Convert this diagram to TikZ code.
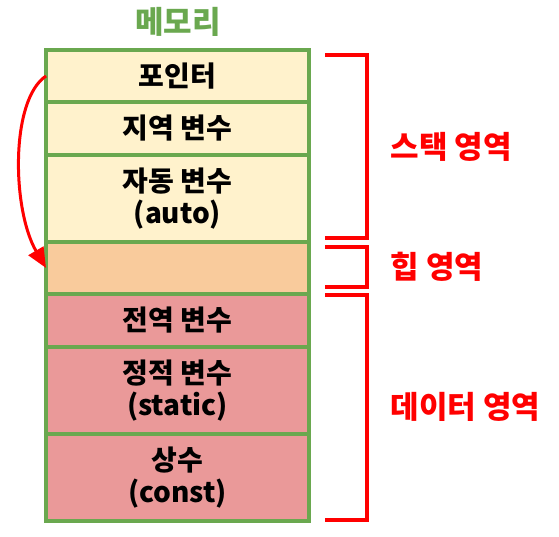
\documentclass[tikz,border=0pt]{standalone}
\usepackage{fontspec}
\setmainfont{Noto Sans CJK KR}
\usetikzlibrary{arrows.meta, positioning}
\definecolor{memgreen}{HTML}{6AA84F}
\definecolor{stackfill}{HTML}{FFF2CC}
\definecolor{heapfill}{HTML}{F9CB9C}
\definecolor{datafill}{HTML}{EA9999}
\tikzstyle{every picture} = [x=1pt, y=-1pt]
\tikzstyle{cell} = [rectangle, draw=memgreen, line width=3.5pt, outer sep=0pt, minimum width=263pt, align=center, font=\bfseries\fontsize{28}{32}\selectfont]
\tikzstyle{area} = [anchor=west, text=red, font=\bfseries\fontsize{31}{34}\selectfont]
\tikzstyle{brace} = [red, line width=3.5pt, line join=miter]

\begin{document}
\begin{tikzpicture}
			\useasboundingbox (0,0) rectangle (559,537);
			\node (ptr) [cell, fill=stackfill, minimum height=52pt, anchor=north west] at (46,50) {포인터};
			\node (local) [cell, fill=stackfill, minimum height=53pt, below=0pt of ptr] {지역 변수};
			\node (auto) [cell, fill=stackfill, minimum height=87pt, below=0pt of local] {자동 변수\\(auto)};
			\node (heap) [cell, fill=heapfill, minimum height=52pt, below=0pt of auto] {};
			\node (global) [cell, fill=datafill, minimum height=53pt, below=0pt of heap] {전역 변수};
			\node (static) [cell, fill=datafill, minimum height=87pt, below=0pt of global] {정적 변수\\(static)};
			\node (const) [cell, fill=datafill, minimum height=87pt, below=0pt of static] {상수\\(const)};
			\node (title) [text=memgreen, font=\bfseries\fontsize{31}{34}\selectfont] at (178,22) {메모리};
			% brackets
			\draw[brace] (325,55) -- (367,55) -- (367,238) -- (325,238);
			\draw[brace] (325,247) -- (367,247) -- (367,287) -- (325,287);
			\draw[brace] (325,295) -- (367,295) -- (367,520) -- (325,520);
			\node (stack label) [area] at (387,147) {스택 영역};
			\node (heap label) [area] at (387,267) {힙 영역};
			\node (data label) [area] at (387,407) {데이터 영역};
			\draw[red, line width=3pt, -{Triangle[length=20pt, width=17pt]}] (ptr.west) .. controls (10,100) and (12,210) .. (heap.west);
		\end{tikzpicture}
\end{document}
